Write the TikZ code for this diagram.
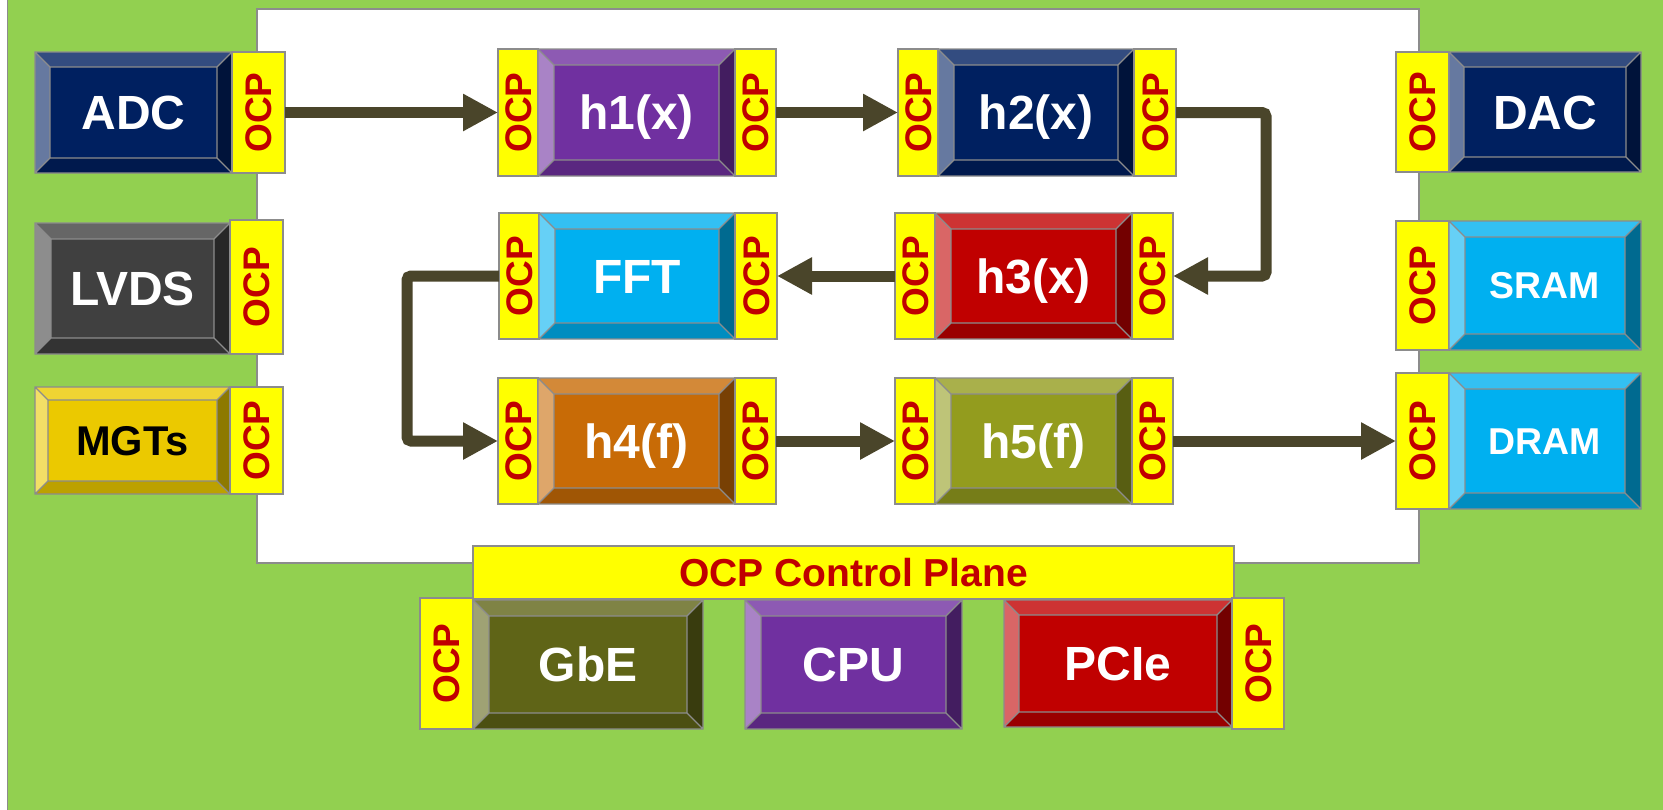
\documentclass[tikz,border=0pt]{standalone}
\usepackage{fontspec}
\setmainfont{Liberation Sans}
\usetikzlibrary{arrows.meta}

\definecolor{bg}{HTML}{92D050}
\definecolor{ocpyellow}{HTML}{FFFF00}
\definecolor{ocpred}{HTML}{C00000}
\definecolor{flow}{HTML}{4A452A}
\definecolor{edge}{HTML}{8C8C8C}
\definecolor{navy}{HTML}{002060}
\definecolor{charcoal}{HTML}{404040}
\definecolor{gold}{HTML}{EBC900}
\definecolor{violet}{HTML}{7030A0}
\definecolor{sky}{HTML}{00B0F0}
\definecolor{crimson}{HTML}{C00000}
\definecolor{amber}{HTML}{C86B06}
\definecolor{leaf}{HTML}{939C1E}
\definecolor{moss}{HTML}{5F6417}

% Bevelled block: name, x1, y1, x2, y2, bevel, colour, label, label style
\newcommand\bevelbox[9]{%
  \fill[#7!80!white] (#2,#3) -- (#4,#3) -- (#4-#6,#3+#6) -- (#2+#6,#3+#6) -- cycle;
  \fill[#7!80!black] (#2,#5) -- (#4,#5) -- (#4-#6,#5-#6) -- (#2+#6,#5-#6) -- cycle;
  \fill[#7!60!white] (#2,#3) -- (#2+#6,#3+#6) -- (#2+#6,#5-#6) -- (#2,#5) -- cycle;
  \fill[#7!60!black] (#4,#3) -- (#4-#6,#3+#6) -- (#4-#6,#5-#6) -- (#4,#5) -- cycle;
  \fill[#7] (#2+#6,#3+#6) rectangle (#4-#6,#5-#6);
  \draw[edgeline] (#2,#3) rectangle (#4,#5)
    (#2+#6,#3+#6) rectangle (#4-#6,#5-#6)
    (#2,#3) -- (#2+#6,#3+#6) (#4,#3) -- (#4-#6,#3+#6)
    (#2,#5) -- (#2+#6,#5-#6) (#4,#5) -- (#4-#6,#5-#6);
  \node[boxlabel,#9] (#1) at ({(#2+#4)/2},{(#3+#5)/2}) {#8};
}

% Yellow OCP interface strip: name, x1, y1, x2, y2
\newcommand\ocpstrip[5]{%
  \node[ocpbox, minimum width={(#4-#2)*0.5pt}, minimum height={(#5-#3)*0.5pt}]
    (#1) at ({(#2+#4)/2},{(#3+#5)/2}) {};
  \node[ocptext] (#1-t) at (#1.center) {OCP};
}

\begin{document}
\begin{tikzpicture}[x=0.5pt,y=-0.5pt,
  edgeline/.style={draw=edge, line width=0.6pt},
  boxlabel/.style={inner sep=0pt, text=white, font=\bfseries\fontsize{24}{24}\selectfont,
    text height=17.2pt, text depth=0pt},
  smalllabel/.style={font=\bfseries\fontsize{18.7}{18.7}\selectfont, text height=13.4pt},
  midlabel/.style={font=\bfseries\fontsize{20.8}{20.8}\selectfont, text height=14.9pt, text=black},
  ocpbox/.style={draw=edge, line width=0.6pt, fill=ocpyellow, inner sep=0pt, outer sep=0pt},
  ocptext/.style={rotate=90, inner sep=0pt, text=ocpred,
    font=\bfseries\fontsize{18.5}{18.5}\selectfont, text height=13.2pt, text depth=0pt},
  cptext/.style={inner sep=0pt, text=ocpred,
    font=\bfseries\fontsize{19.5}{19.5}\selectfont, text height=14pt, text depth=0pt},
  flowline/.style={draw=flow, line width=5.5pt, rounded corners=2pt,
    -{Triangle[length=17.5pt, width=17.5pt]}},
]
\useasboundingbox (0,0) rectangle (1663,809);
\fill[white] (0,0) rectangle (1663,809);

% board and fabric area
\draw[edgeline, fill=bg] (7.5,-20) rectangle (1700,840);
\draw[edgeline, fill=white] (257,9) rectangle (1419,563);

% left column: I/O blocks
\bevelbox{adc}{35}{52}{232}{173}{15}{navy}{ADC}{}
\ocpstrip{adcP}{232}{52}{285}{173}
\bevelbox{lvds}{35}{223}{230}{354}{16}{charcoal}{LVDS}{}
\ocpstrip{lvdsP}{230}{220}{283}{354}
\bevelbox{mgt}{35}{387}{230}{494}{13}{gold}{MGTs}{midlabel}
\ocpstrip{mgtP}{230}{387}{283}{494}

% processing chain
\ocpstrip{h1i}{498}{49}{538}{176}
\bevelbox{h1}{538}{49}{735}{176}{16}{violet}{h1(x)}{}
\ocpstrip{h1o}{735}{49}{776}{176}

\ocpstrip{h2i}{898}{49}{938}{176}
\bevelbox{h2}{938}{49}{1134}{176}{16}{navy}{h2(x)}{}
\ocpstrip{h2o}{1134}{49}{1176}{176}

\ocpstrip{ffti}{499}{213}{539}{339}
\bevelbox{fft}{539}{213}{735}{339}{16}{sky}{FFT}{}
\ocpstrip{ffto}{735}{213}{777}{339}

\ocpstrip{h3i}{895}{213}{935}{339}
\bevelbox{h3}{935}{213}{1132}{339}{16}{crimson}{h3(x)}{}
\ocpstrip{h3o}{1132}{213}{1173}{339}

\ocpstrip{h4i}{498}{378}{538}{504}
\bevelbox{h4}{538}{378}{735}{504}{16}{amber}{h4(f)}{}
\ocpstrip{h4o}{735}{378}{776}{504}

\ocpstrip{h5i}{895}{378}{935}{504}
\bevelbox{h5}{935}{378}{1132}{504}{16}{leaf}{h5(f)}{}
\ocpstrip{h5o}{1132}{378}{1173}{504}

% right column: converters and memories
\ocpstrip{dacP}{1396}{52}{1449}{172}
\bevelbox{dac}{1449}{52}{1641}{172}{15}{navy}{DAC}{}
\ocpstrip{sramP}{1396}{221}{1449}{350}
\bevelbox{sram}{1449}{221}{1641}{350}{16}{sky}{SRAM}{smalllabel}
\ocpstrip{dramP}{1396}{373}{1449}{509}
\bevelbox{dram}{1449}{373}{1641}{509}{16}{sky}{DRAM}{smalllabel}

% control plane and host-side blocks
\node[ocpbox, minimum width={(1234-473)*0.5pt}, minimum height={(599-546)*0.5pt}]
  (cp) at ({(473+1234)/2},{(546+599)/2}) {};
\node[cptext] (cp-t) at (cp.center) {OCP Control Plane};
\ocpstrip{gbeP}{420}{598}{473}{729}
\bevelbox{gbe}{473}{600}{703}{729}{16}{moss}{GbE}{}
\bevelbox{cpu}{745}{600}{962}{729}{16}{violet}{CPU}{}
\bevelbox{pcie}{1004}{600}{1232}{727}{15}{crimson}{PCIe}{}
\ocpstrip{pcieP}{1232}{598}{1284}{729}

% data flow
\draw[flowline] (adcP.east) -- (h1i.west);
\draw[flowline] (h1o.east) -- (h2i.west);
\draw[flowline] (h2o.east) -- ++(90,0) |- (h3o.east);
\draw[flowline] (h3i.west) -- (ffto.east);
\draw[flowline] (ffti.west) -- ++(-92,0) |- (h4i.west);
\draw[flowline] (h4o.east) -- (h5i.west);
\draw[flowline] (h5o.east) -- (dramP.west);
\end{tikzpicture}
\end{document}
